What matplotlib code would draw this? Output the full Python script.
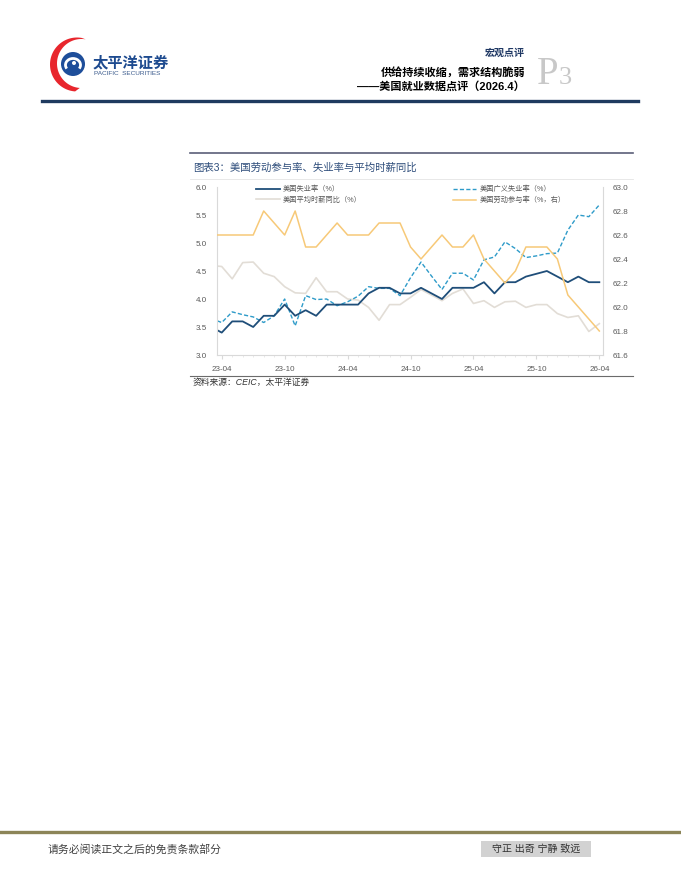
import matplotlib
matplotlib.use("Agg")
import matplotlib.pyplot as plt
import numpy as np
import pandas as pd
from matplotlib.lines import Line2D
from matplotlib.patches import Polygon, Circle, Rectangle, Arc

plt.rcParams['font.family'] = ['Liberation Sans', 'Noto Sans CJK SC', 'DejaVu Sans']

# monthly data, 2023-03 .. 2026-04 (the 2023-03 point sits left of the axis and is clipped)
months = pd.period_range('2023-03', '2026-04', freq='M')
unemp = [3.5, 3.4, 3.6, 3.6, 3.5, 3.7, 3.7, 3.9, 3.7, 3.8, 3.7, 3.9, 3.9, 3.9, 3.9,
         4.1, 4.2, 4.2, 4.1, 4.1, 4.2, 4.1, 4.0, 4.2, 4.2, 4.2, 4.3, 4.1, 4.3, 4.3,
         4.4, 4.45, 4.5, 4.4, 4.3, 4.4, 4.3, 4.3]
u6 = [3.65, 3.58, 3.77, 3.72, 3.68, 3.58, 3.70, 4.00, 3.52, 4.06, 3.99, 4.00, 3.88,
      3.95, 4.05, 4.22, 4.19, 4.19, 4.06, 4.38, 4.66, 4.41, 4.17, 4.46, 4.46, 4.34,
      4.70, 4.75, 5.02, 4.90, 4.74, 4.77, 4.81, 4.82, 5.23, 5.50, 5.47, 5.68]
wage = [4.6, 4.58, 4.36, 4.65, 4.66, 4.46, 4.40, 4.22, 4.11, 4.10, 4.38, 4.13, 4.13,
        4.00, 3.98, 3.85, 3.62, 3.90, 3.90, 4.03, 4.17, 4.07, 3.97, 4.10, 4.18, 3.92,
        3.97, 3.85, 3.95, 3.96, 3.85, 3.90, 3.90, 3.74, 3.67, 3.70, 3.42, 3.56]
lfpr = [62.6, 62.6, 62.6, 62.6, 62.6, 62.8, 62.7, 62.6, 62.8, 62.5, 62.5, 62.6, 62.7,
        62.6, 62.6, 62.6, 62.7, 62.7, 62.7, 62.5, 62.4, 62.5, 62.6, 62.5, 62.5, 62.6,
        62.4, 62.3, 62.2, 62.3, 62.5, 62.5, 62.5, 62.4, 62.1, 62.0, 61.9, 61.8]

names = ['美国失业率（%）', '美国广义失业率（%）', '美国平均时薪同比（%）', '美国劳动参与率（%，右）']

W, H = 681, 881
def fx(v): return v / W
def fy(v): return 1 - v / H

fig = plt.figure(figsize=(W / 100, H / 100), dpi=100)

# ---------- page header ----------
lg = fig.add_axes([fx(44), fy(95), 52 / W, 62 / H])
lg.set_xlim(44, 96); lg.set_ylim(95, 33); lg.axis('off')
t = np.radians(np.linspace(80, 266, 60))
outer = np.column_stack([77 + 27 * np.cos(t), 64.5 - 27 * np.sin(t)])
inner = np.column_stack([81.5 + 24.5 * np.cos(t[::-1]), 63.5 - 24.5 * np.sin(t[::-1])])
lg.add_patch(Polygon(np.vstack([outer, inner]), closed=True, color='#E8262D', lw=0))
lg.add_patch(Circle((73, 64), 12, color='#1E4E9A', lw=0))
lg.add_patch(Arc((73, 65), 15, 13, theta1=150, theta2=30, color='white', lw=2.0))
lg.add_patch(Circle((74, 63), 2.0, color='white', lw=0))

fig.text(fx(93), fy(63.5), '太平洋证券', fontsize=11, fontweight='bold', color='#1D4A8F',
         ha='left', va='center')
fig.text(fx(94), fy(73.5), 'PACIFIC  SECURITIES', fontsize=4.6, color='#3A5A8C',
         ha='left', va='center')

fig.text(fx(525), fy(53), '宏观点评', fontsize=7.2, fontweight='bold', color='#1F3864',
         ha='right', va='center')
fig.text(fx(525), fy(72), '供给持续收缩，需求结构脆弱', fontsize=8, fontweight='bold',
         color='black', ha='right', va='center')
fig.text(fx(525), fy(86), '——美国就业数据点评（2026.4）', fontsize=8, fontweight='bold',
         color='black', ha='right', va='center')
fig.text(fx(537), fy(84), 'P', fontsize=28, color='#C8C8C8', family='Liberation Serif',
         ha='left', va='baseline')
fig.text(fx(559), fy(84), '3', fontsize=19, color='#C8C8C8', family='Liberation Serif',
         ha='left', va='baseline')
fig.add_artist(Line2D([fx(42), fx(638)], [fy(101), fy(101)], color='#1F3A5F', lw=2.4))

# ---------- chart frame ----------
fig.add_artist(Line2D([fx(190), fx(633)], [fy(153), fy(153)], color='#5B5F78', lw=1.2))
fig.add_artist(Line2D([fx(190), fx(633)], [fy(179), fy(179)], color='#E4E4E4', lw=0.6))
fig.text(fx(193), fy(168), '图表3：美国劳动参与率、失业率与平均时薪同比', fontsize=7.5,
         color='#2E4D7B', ha='left', va='center')
fig.add_artist(Line2D([fx(190), fx(633)], [fy(376), fy(376)], color='#6B6B6B', lw=0.8))
fig.text(fx(193), fy(382.5), '资料来源：CEIC，太平洋证券', fontsize=6.3, color='#333333',
         style='italic', ha='left', va='center')

# ---------- chart ----------
x = np.arange(len(months)) - 1
ax = fig.add_axes([fx(216.7), fy(355), (603 - 216.7) / W, (355 - 187) / H])
ax2 = ax.twinx()

l_wage, = ax.plot(x, wage, color='#E2DDD6', lw=1.2)
l_u6, = ax.plot(x, u6, color='#2E9BC9', lw=1.0, ls=(0, (3, 1.6)))
l_un, = ax.plot(x, unemp, color='#1F4E79', lw=1.3)
l_lf, = ax2.plot(x, lfpr, color='#F7C978', lw=1.1)

ax.set_xlim(-0.48, 36.35)
ax.set_ylim(3.0, 6.0)
ax.set_yticks(np.arange(3.0, 6.01, 0.5))
ax.set_yticklabels([f'{v:.1f}' for v in np.arange(3.0, 6.01, 0.5)])
ax2.set_ylim(61.6, 63.0)
ax2.set_yticks(np.arange(61.6, 63.01, 0.2))
ax2.set_yticklabels([f'{v:.1f}' for v in np.arange(61.6, 63.01, 0.2)])

ticks = np.arange(0, 37, 6)
ax.set_xticks(ticks)
ax.set_xticklabels([months[i + 1].strftime('%y-%m') for i in ticks])
ax.set_xticks(np.arange(0, 37), minor=True)

for a in (ax, ax2):
    for s in a.spines.values():
        s.set_visible(False)
    a.patch.set_visible(False)
ax.spines['left'].set_visible(True)
ax.spines['bottom'].set_visible(True)
ax2.spines['right'].set_visible(True)
for s in (ax.spines['left'], ax.spines['bottom'], ax2.spines['right']):
    s.set_color('#D9D9D9'); s.set_linewidth(0.8)

ax.tick_params(axis='y', length=0, pad=7, labelsize=5.8, labelcolor='#595959')
ax2.tick_params(axis='y', length=0, pad=7, labelsize=5.8, labelcolor='#595959')
ax.tick_params(axis='x', which='major', length=3, color='#D9D9D9', pad=5,
               labelsize=5.8, labelcolor='#595959')
ax.tick_params(axis='x', which='minor', length=1.5, color='#E4E4E4')

ax2.legend([l_un, l_wage, l_u6, l_lf], [names[0], names[2], names[1], names[3]],
           ncol=2, frameon=False, loc='upper left',
           bbox_to_anchor=(fx(256), fy(186)), bbox_transform=fig.transFigure,
           fontsize=5.2, handlelength=3.3, handletextpad=0.4, columnspacing=12.6,
           labelspacing=0.45, borderpad=0, borderaxespad=0, labelcolor='#595959')

# ---------- footer ----------
fig.add_artist(Line2D([0, 1], [fy(832), fy(832)], color='#8C8558', lw=2.4))
fig.text(fx(48), fy(849), '请务必阅读正文之后的免责条款部分', fontsize=7.8, color='#404040',
         ha='left', va='center')
fig.add_artist(Rectangle((fx(481), fy(857)), 110 / W, 16 / H, transform=fig.transFigure,
                         color='#D2D2D2', lw=0))
fig.text(fx(536), fy(849), '守正 出奇 宁静 致远', fontsize=7.2, color='#333333',
         ha='center', va='center')

fig.savefig('out.png', dpi=100, facecolor='white')
